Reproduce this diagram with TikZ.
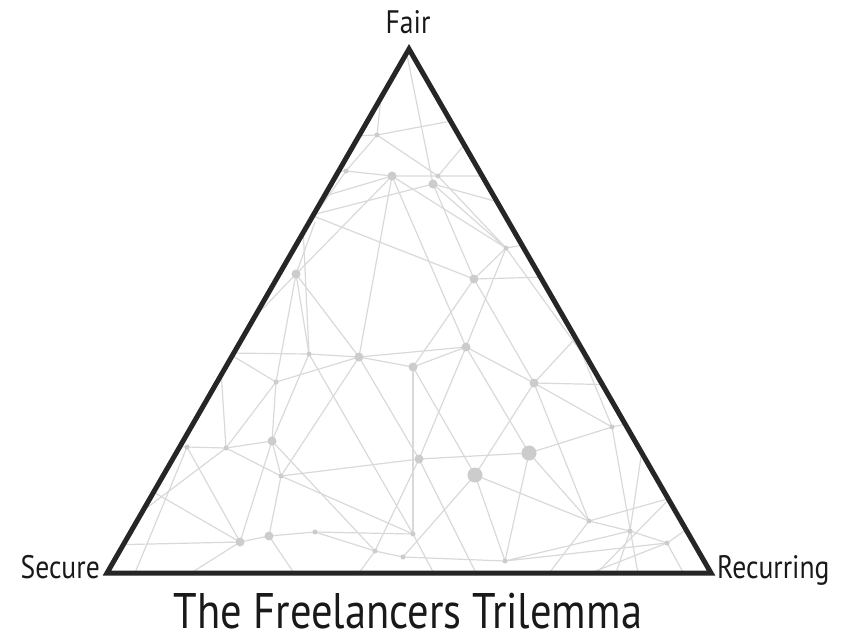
\documentclass[tikz,border=0pt]{standalone}
\usepackage{fontspec}
\setmainfont{PT Sans}[FakeStretch=0.85]
\begin{document}
\begin{tikzpicture}[x=1pt,y=-1pt,
  mesh/.style={draw=black!15, line width=1.2pt},
  dotS/.style={circle, fill=black!20, inner sep=0pt, minimum size=5pt},
  dotM/.style={circle, fill=black!20, inner sep=0pt, minimum size=9pt},
  dotL/.style={circle, fill=black!20, inner sep=0pt, minimum size=15pt},
  frame/.style={draw=black!85, line width=5pt, line join=miter},
  lbl/.style={font=\fontsize{32.5}{36}\selectfont, text=black!90, inner sep=0pt},
  ttl/.style={font=\fontsize{50}{54}\selectfont, text=black!90, inner sep=0pt}]
\useasboundingbox (0,0) rectangle (845,641);
% triangle corners
\coordinate (T) at (409,49);
\coordinate (L) at (107,573);
\coordinate (R) at (711,573);
% mesh points
\coordinate (n1) at (377,135);
\coordinate (n2) at (346,171);
\coordinate (n3) at (392,176);
\coordinate (n4) at (438,176);
\coordinate (n5) at (433,184);
\coordinate (n6) at (296,274);
\coordinate (n7) at (506,248);
\coordinate (n8) at (474,279);
\coordinate (n9) at (309,354);
\coordinate (n10) at (359,357);
\coordinate (n11) at (466,347);
\coordinate (n12) at (413,367);
\coordinate (n13) at (534,383);
\coordinate (n14) at (276,382);
\coordinate (n15) at (272,441);
\coordinate (n16) at (226,448);
\coordinate (n17) at (187,447);
\coordinate (n18) at (281,476);
\coordinate (n19) at (419,459);
\coordinate (n20) at (475,475);
\coordinate (n21) at (529,453);
\coordinate (n22) at (612,427);
\coordinate (n23) at (589,521);
\coordinate (n24) at (630,531);
\coordinate (n25) at (667,543);
\coordinate (n26) at (240,542);
\coordinate (n27) at (269,536);
\coordinate (n28) at (315,532);
\coordinate (n29) at (413,534);
\coordinate (n30) at (375,551);
\coordinate (n31) at (403,557);
\coordinate (n32) at (505,561);
% free ends (clipped by the triangle)
\coordinate (bA) at (350,136);
\coordinate (bB) at (462,119);
\coordinate (bC) at (322,172);
\coordinate (bD) at (500,176);
\coordinate (bE) at (470,138);
\coordinate (bF) at (318,198);
\coordinate (bG) at (308,216);
\coordinate (bH) at (520,208);
\coordinate (bI) at (245,327);
\coordinate (bJ) at (298,210);
\coordinate (bK) at (548,277);
\coordinate (bL) at (530,244);
\coordinate (bM) at (605,385);
\coordinate (bN) at (302,205);
\coordinate (bO) at (228,353);
\coordinate (bQ) at (625,385);
\coordinate (bR) at (585,328);
\coordinate (bS) at (655,418);
\coordinate (bT) at (645,430);
\coordinate (bU) at (685,494);
\coordinate (bV) at (540,585);
\coordinate (bW) at (482,585);
\coordinate (bX) at (105,545);
\coordinate (bY) at (172,585);
\coordinate (bZ) at (160,446);
\coordinate (bAA) at (128,522);
\coordinate (bAB) at (220,355);
\coordinate (bAC) at (302,585);
\coordinate (bAD) at (405,45);
\coordinate (bAE) at (384,70);
\coordinate (bAF) at (560,585);
\coordinate (bAG) at (585,585);
\coordinate (bAH) at (680,488);
\coordinate (bAI) at (690,585);
\coordinate (bAJ) at (350,585);
\coordinate (bAK) at (440,585);
\coordinate (bAL) at (612,585);
\coordinate (bAM) at (130,585);
\coordinate (bAN) at (315,222);
\coordinate (bAO) at (290,250);
\coordinate (bAP) at (150,490);
\coordinate (bAQ) at (640,585);
\coordinate (bAR) at (700,520);
\coordinate (bAS) at (560,300);
\begin{scope}
\clip (T) -- (L) -- (R) -- cycle;
\draw[mesh] (bAD) -- (n5) -- (n8);
\draw[mesh] (bAE) -- (n1);
\draw[mesh] (bA) -- (n1) -- (bB);
\draw[mesh] (bC) -- (n2) -- (n3) -- (n4) -- (bD);
\draw[mesh] (n1) -- (n4);
\draw[mesh] (n1) -- (n2) -- (bAO);
\draw[mesh] (bE) -- (n4) -- (n7);
\draw[mesh] (bF) -- (n3);
\draw[mesh] (bG) -- (n5) -- (bH);
\draw[mesh] (n5) -- (n7);
\draw[mesh] (n3) -- (n6) -- (bI);
\draw[mesh] (n3) -- (n10);
\draw[mesh] (n3) -- (n11);
\draw[mesh] (n3) -- (n7);
\draw[mesh] (bJ) -- (n8) -- (bK);
\draw[mesh] (n7) -- (n8);
\draw[mesh] (n7) -- (n11);
\draw[mesh] (bL) -- (n7) -- (bM);
\draw[mesh] (n8) -- (n12);
\draw[mesh] (n8) -- (n13);
\draw[mesh] (n11) -- (n12);
\draw[mesh] (n11) -- (n13);
\draw[mesh] (bO) -- (n9) -- (n10) -- (n11);
\draw[mesh] (n10) -- (n12);
\draw[mesh] (bN) -- (n9);
\draw[mesh] (bAN) -- (n6);
\draw[mesh] (n6) -- (n9);
\draw[mesh] (n6) -- (n10);
\draw[mesh] (n6) -- (n14);
\draw[mesh] (bO) -- (n14) -- (n10);
\draw[mesh] (n12) -- (n29);
\draw[mesh] (n12) -- (n20);
\draw[mesh] (n13) -- (n20);
\draw[mesh] (bR) -- (n13) -- (bQ);
\draw[mesh] (n13) -- (n22);
\draw[mesh] (n13) -- (n23);
\draw[mesh] (n19) -- (n21) -- (n22) -- (bS);
\draw[mesh] (n21) -- (n23);
\draw[mesh] (n21) -- (n32);
\draw[mesh] (n21) -- (n11);
\draw[mesh] (n11) -- (n19);
\draw[mesh] (n20) -- (n23) -- (n24) -- (bT);
\draw[mesh] (n20) -- (n31);
\draw[mesh] (n20) -- (n32);
\draw[mesh] (n23) -- (bU);
\draw[mesh] (n23) -- (bV);
\draw[mesh] (n24) -- (n32) -- (n25);
\draw[mesh] (n24) -- (bAL);
\draw[mesh] (n24) -- (n25) -- (bAR);
\draw[mesh] (n25) -- (bAI);
\draw[mesh] (n25) -- (bAF);
\draw[mesh] (n22) -- (bAQ);
\draw[mesh] (n22) -- (bAS);
\draw[mesh] (bAG) -- (bAH);
\draw[mesh] (n28) -- (n30) -- (n31) -- (n32);
\draw[mesh] (n19) -- (n30) -- (bAJ);
\draw[mesh] (n19) -- (bW);
\draw[mesh] (n29) -- (bAK);
\draw[mesh] (n10) -- (n19);
\draw[mesh] (n9) -- (n29);
\draw[mesh] (n18) -- (n19);
\draw[mesh] (n18) -- (n29);
\draw[mesh] (bX) -- (n26) -- (n27) -- (n28) -- (n29);
\draw[mesh] (n14) -- (n15);
\draw[mesh] (n14) -- (n16);
\draw[mesh] (bZ) -- (n17) -- (n16) -- (n15);
\draw[mesh] (n17) -- (n26);
\draw[mesh] (n15) -- (n9);
\draw[mesh] (n15) -- (n18);
\draw[mesh] (n15) -- (n26);
\draw[mesh] (n15) -- (n30);
\draw[mesh] (n16) -- (n18);
\draw[mesh] (n18) -- (n27);
\draw[mesh] (n10) -- (n18);
\draw[mesh] (bAA) -- (n16) -- (bAB);
\draw[mesh] (n26) -- (bY);
\draw[mesh] (n27) -- (bAC);
\draw[mesh] (n17) -- (bAM);
\draw[mesh] (bAP) -- (n26);
\end{scope}
% dots
\foreach \p in {n1,n2,n4,n7,n9,n14,n16,n17,n18,n22,n23,n24,n25,n28,n29,n30,n31,n32}
  \node[dotS] (d\p) at (\p) {};
\foreach \p in {n3,n5,n6,n8,n10,n11,n12,n13,n15,n19,n26,n27}
  \node[dotM] (d\p) at (\p) {};
\node[dotL] (dn20) at (n20) {};
\node[dotL] (dn21) at (n21) {};
% frame
\draw[frame] (T) -- (L) -- (R) -- cycle;
% labels
\node[lbl, anchor=base] (fair) at (408,33) {Fair};
\node[lbl, anchor=base east] (secure) at (100,578) {Secure};
\node[lbl, anchor=base west] (recurring) at (717,578) {Recurring};
\node[ttl, anchor=base] (title) at (408,628) {The Freelancers Trilemma};
\end{tikzpicture}
\end{document}
